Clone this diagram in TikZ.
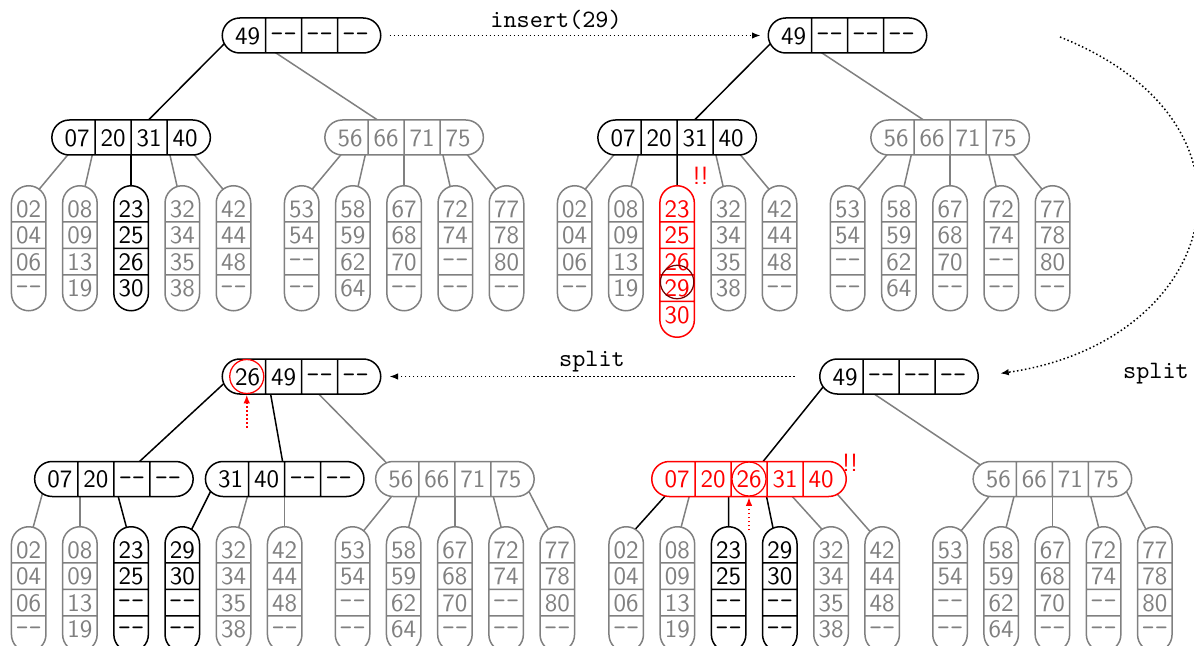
\documentclass[tikz,border=0pt]{standalone}
\usetikzlibrary{shapes.multipart,calc,arrows.meta,backgrounds}

% Sel kunci dan baris daun
\newcommand\ks{\raisebox{0.9pt}{\texttt{-{}-}}}
\newcommand\sel[1]{\makebox[13.8pt]{\rule[-3.55pt]{0pt}{14pt}#1}}
\newcommand\simpulempat[4]{\hspace*{3.2pt}\sel{#1}\nodepart{two}\sel{#2}%
  \nodepart{three}\sel{#3}\nodepart{four}\sel{#4}\hspace*{3.2pt}}
\newcommand\simpullima[5]{\hspace*{3.2pt}\sel{#1}\nodepart{two}\sel{#2}%
  \nodepart{three}\sel{#3}\nodepart{four}\sel{#4}\nodepart{five}\sel{#5}\hspace*{3.2pt}}
\newcommand\baris[3]{\makebox[13.8pt]{\rule[#1]{0pt}{#2}#3}}
\newcommand\daunempat[4]{\baris{-1.6pt}{13.8pt}{#1}\nodepart{two}\baris{-1.6pt}{10pt}{#2}%
  \nodepart{three}\baris{-1.6pt}{10pt}{#3}\nodepart{four}\baris{-5.4pt}{13.8pt}{#4}}
\newcommand\daunlima[5]{\baris{-1.6pt}{13.8pt}{#1}\nodepart{two}\baris{-1.6pt}{10pt}{#2}%
  \nodepart{three}\baris{-1.6pt}{10pt}{#3}\nodepart{four}\baris{-1.6pt}{10pt}{#4}%
  \nodepart{five}\baris{-5.4pt}{13.8pt}{#5}}

\tikzset{
  simpul/.style={rectangle split, rectangle split horizontal, rectangle split parts=4,
    draw, fill=white, rounded corners=7pt, inner sep=0pt, line width=0.6pt},
  simpul lima/.style={simpul, rectangle split parts=5},
  daun/.style={rectangle split, rectangle split parts=4, draw, fill=white,
    rounded corners=6.9pt, inner sep=0pt, line width=0.6pt, anchor=north},
  daun lima/.style={daun, rectangle split parts=5},
  lama/.style={draw=gray, text=gray},
  baru/.style={draw=red, text=red},
  garis/.style={line width=0.6pt},
  garis daun/.style={garis, shorten <=-6pt, shorten >=-4pt},
  panah/.style={line width=0.6pt, densely dotted, -{Latex[length=3.4pt,width=2.6pt]}},
}

\begin{document}
\begin{tikzpicture}[x=0.4pt, y=-0.4pt, font=\sffamily]
  \useasboundingbox (0,0) rectangle (1194,646);

  % Dua pohon atas: sebelum dan sesudah insert
  \foreach \p/\geser in {a/0pt, b/218.4pt}
    {
      \begin{scope}[xshift=\geser]
        \node[simpul] (r\p) at (301.5,35.5) {\simpulempat{49}{\ks}{\ks}{\ks}};
        \node[simpul] (l\p) at (131.1,137.5) {\simpulempat{07}{20}{31}{40}};
        \node[simpul,lama] (g\p) at (404.1,137.5) {\simpulempat{56}{66}{71}{75}};
        \foreach \n/\x/\ka/\kb/\kc/\kd in {02/28.7/02/04/06/\ks, 08/79.9/08/09/13/19,
            32/182.3/32/34/35/38, 42/233.5/42/44/48/\ks, 53/301.7/53/54/\ks/\ks,
            58/352.9/58/59/62/64, 67/404.1/67/68/70/\ks, 72/455.3/72/74/\ks/\ks,
            77/506.5/77/78/80/\ks}
          \node[daun,lama] (\p\n) at (\x,185) {\daunempat{\ka}{\kb}{\kc}{\kd}};
      \end{scope}
    }
  \node[daun] (a23) at (131.1,185) {\daunempat{23}{25}{26}{30}};
  \node[daun lima,baru] (b23) at (677.1,185) {\daunlima{23}{25}{26}{29}{30}};

  % Dua pohon bawah: setelah split daun dan split simpul
  \foreach \p/\geser in {c/0pt, d/239pt}
    {
      \begin{scope}[xshift=\geser]
        \node[simpul,lama] (g\p) at (454.9,479) {\simpulempat{56}{66}{71}{75}};
        \foreach \n/\x/\ka/\kb/\kc/\kd in {02/28.7/02/04/06/\ks, 08/79.9/08/09/13/19,
            32/233.5/32/34/35/38, 42/284.7/42/44/48/\ks, 53/352.5/53/54/\ks/\ks,
            58/403.7/58/59/62/64, 67/454.9/67/68/70/\ks, 72/506.1/72/74/\ks/\ks,
            77/557.3/77/78/80/\ks}
          \node[daun,lama] (\p\n) at (\x,526) {\daunempat{\ka}{\kb}{\kc}{\kd}};
        \node[daun] (\p23) at (131.1,526) {\daunempat{23}{25}{\ks}{\ks}};
        \node[daun] (\p29) at (182.3,526) {\daunempat{29}{30}{\ks}{\ks}};
      \end{scope}
    }
  \node[simpul] (rc) at (301.5,376.5) {\simpulempat{26}{49}{\ks}{\ks}};
  \node[simpul] (lc) at (113.9,479) {\simpulempat{07}{20}{\ks}{\ks}};
  \node[simpul] (mc) at (284.7,479) {\simpulempat{31}{40}{\ks}{\ks}};
  \node[simpul] (rd) at (899,376.5) {\simpulempat{49}{\ks}{\ks}{\ks}};
  \node[simpul lima,baru] (md) at (749,479) {\simpullima{07}{20}{26}{31}{40}};

  % Garis anak (di belakang simpul)
  \begin{scope}[on background layer]
    \foreach \p in {a,b}
      {
        \draw[garis] ($(r\p.center)+(-69,0)$) -- (l\p.center);
        \draw[garis,gray] ($(r\p.center)+(-52,0)$) -- (g\p.center);
        \foreach \n/\s/\e in {02/-64/14, 08/-39/5.5, 32/39/-5.5, 42/64/-14}
          \draw[garis daun,gray] ($(l\p.south)+(\s,0)$) -- ($(\p\n.north)+(\e,0)$);
        \draw[garis daun] (l\p.south) -- (\p23.north);
        \foreach \n/\s/\e in {53/-64/14, 58/-39/5.5, 67/0/0, 72/39/-5.5, 77/64/-14}
          \draw[garis daun,gray] ($(g\p.south)+(\s,0)$) -- ($(\p\n.north)+(\e,0)$);
      }
    \foreach \p in {c,d}
      \foreach \n/\s/\e in {53/-64/15, 58/-38.6/5.3, 67/0/0, 72/38.6/-5.3, 77/77/-10.6}
        \draw[garis daun,gray] ($(g\p.south)+(\s,0)$) -- ($(\p\n.north)+(\e,0)$);

    \draw[garis] ($(rc.center)+(-70,0)$) -- ($(lc.center)+(6.7,0)$);
    \draw[garis] ($(rc.center)+(-34,0)$) -- ($(mc.center)+(1,0)$);
    \draw[garis,gray] (rc.center) -- ($(gc.center)+(-52.5,0)$);
    \draw[garis daun,gray] ($(lc.south)+(-72.5,0)$) -- ($(c02.north)+(4.8,0)$);
    \draw[garis daun,gray] ($(lc.south)+(-34,0)$) -- (c08.north);
    \draw[garis daun] ($(lc.south)+(4.5,0)$) -- ($(c23.north)+(-5,0)$);
    \draw[garis daun] ($(mc.south)+(-77,0)$) -- ($(c29.north)+(11,0)$);
    \draw[garis daun,gray] ($(mc.south)+(-37.5,0)$) -- ($(c32.north)+(5.6,0)$);
    \draw[garis daun,gray] (mc.south) -- (c42.north);

    \draw[garis] ($(rd.center)+(-67.5,0)$) -- (md.center);
    \draw[garis,gray] ($(rd.center)+(-51,0)$) -- ($(gd.center)+(-51,0)$);
    \foreach \n/\s/\e in {02/-85/12, 23/-20.4/0, 29/17.7/-7.2}
      \draw[garis daun] ($(md.south)+(\s,0)$) -- ($(d\n.north)+(\e,0)$);
    \foreach \n/\s/\e in {08/-60/4, 32/44/-12, 42/91/-17}
      \draw[garis daun,gray] ($(md.south)+(\s,0)$) -- ($(d\n.north)+(\e,0)$);
  \end{scope}

  % Tanda kunci yang naik
  \draw[red!45!black, line width=0.5pt] ($(b23.north)+(0,97)$) circle (6.7pt);
  \draw[red, line width=0.5pt] ($(rc.west)+(25.25,0)$) circle (6.8pt);
  \draw[red, line width=0.5pt] (md.center) circle (6.8pt);
  \coordinate (naik-c) at ($(rc.south west)+(25.25,33)$);
  \draw[panah,red] (naik-c) -- ($(rc.south west)+(25.25,0)$);
  \coordinate (naik-d) at ($(md.south)+(0,33)$);
  \draw[panah,red] (naik-d) -- (md.south);
  \node[red] (awas-b) at (700.5,176) {!!};
  \node[red] (awas-d) at (850,462.5) {!!};

  % Panah langkah
  \draw[panah, shorten <=3.2pt, shorten >=2.8pt] (ra.east) -- (rb.west);
  \node[font=\ttfamily] (sisip) at (556,20) {insert(29)};
  \coordinate (mulai) at (1060,37);
  \draw[panah, shorten >=8.6pt] (mulai) .. controls (1280,125) and (1218.5,342) .. (rd.east);
  \node[font=\ttfamily] (pecah-d) at (1156,373.5) {split};
  \draw[panah, shorten <=9.8pt, shorten >=3.2pt] (rd.west) -- (rc.east);
  \node[font=\ttfamily] (pecah-c) at (592,362) {split};
\end{tikzpicture}
\end{document}
